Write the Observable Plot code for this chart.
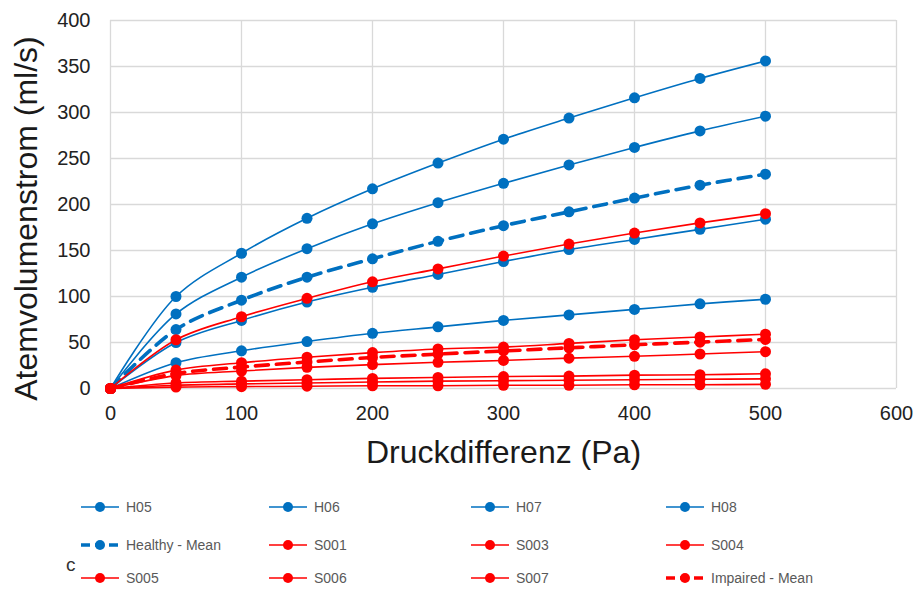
<!DOCTYPE html>
<html>
<head>
<meta charset="utf-8">
<script src="https://cdn.jsdelivr.net/npm/d3@7"></script>
<script src="https://cdn.jsdelivr.net/npm/@observablehq/plot@0.6"></script>
<style>
  body { margin: 0; background: #fff; font-family: "Liberation Sans", Arial, sans-serif; }
  #wrap { position: relative; width: 917px; height: 589px; overflow: hidden; }
  #legend { position: absolute; left: 0; top: 0; width: 917px; height: 589px; pointer-events: none; }
  .item { position: absolute; display: flex; align-items: center; font-family: "Liberation Sans Narrow", "Liberation Sans", Arial, sans-serif; font-size: 14px; color: #595959; }
  .item svg { margin-right: 6px; }
  #panel { position: absolute; left: 66px; top: 554px; font-size: 19px; color: #333; font-family: "Liberation Sans", Arial, sans-serif; }
</style>
</head>
<body>
<div id="wrap"><div id="chart"></div><div id="legend"></div><div id="panel">c</div></div>
<script>
// Pressure differences (Pa)
const pressure = [0, 50, 100, 150, 200, 250, 300, 350, 400, 450, 500];

// Healthy subjects (ml/s)
const H05 = [0, 100, 147, 185, 217, 245, 271, 294, 316, 337, 356];
const H06 = [0, 81, 121, 152, 179, 202, 223, 243, 262, 280, 296];
const H07 = [0, 50, 74, 94, 110, 124, 138, 151, 162, 173, 184];
const H08 = [0, 28, 41, 51, 60, 67, 74, 80, 86, 92, 97];
const healthyMean = [0, 64, 96, 121, 141, 160, 177, 192, 207, 221, 233];

// Impaired subjects (ml/s)
const S001 = [0, 53, 78, 98, 116, 130, 144, 157, 169, 180, 190];
const S003 = [0, 20, 28, 34, 39, 43, 45, 49, 53, 56, 59];
const S004 = [0, 14, 19, 23, 26, 28.5, 30.5, 33, 35, 37.5, 40];
const S005 = [0, 6, 8, 9.5, 11, 12, 13, 13.5, 14.5, 15, 16];
const S006 = [0, 3.5, 5, 6, 7, 8, 8.5, 9, 9.5, 10, 10.5];
const S007 = [0, 1.5, 2, 2.5, 3, 3, 3.5, 3.5, 4, 4, 4.5];
const impairedMean = [0, 16.3, 23.3, 28.8, 33.7, 37.4, 40.8, 44.2, 47.5, 50.4, 53.3];

const xTicks = [0, 100, 200, 300, 400, 500, 600];
const yTicks = [0, 50, 100, 150, 200, 250, 300, 350, 400];

const BLUE = "#0070C0";
const RED = "#FF0000";

const seriesList = [
  {name: "H05", values: H05, color: BLUE, dashed: false},
  {name: "H06", values: H06, color: BLUE, dashed: false},
  {name: "H07", values: H07, color: BLUE, dashed: false},
  {name: "H08", values: H08, color: BLUE, dashed: false},
  {name: "Healthy - Mean", values: healthyMean, color: BLUE, dashed: true},
  {name: "S001", values: S001, color: RED, dashed: false},
  {name: "S003", values: S003, color: RED, dashed: false},
  {name: "S004", values: S004, color: RED, dashed: false},
  {name: "S005", values: S005, color: RED, dashed: false},
  {name: "S006", values: S006, color: RED, dashed: false},
  {name: "S007", values: S007, color: RED, dashed: false},
  {name: "Impaired - Mean", values: impairedMean, color: RED, dashed: true}
];

const marks = [
  Plot.gridX(xTicks, {stroke: "#d9d9d9", strokeOpacity: 1, strokeWidth: 1.3}),
  Plot.gridY(yTicks, {stroke: "#d9d9d9", strokeOpacity: 1, strokeWidth: 1.3}),
  Plot.axisX(xTicks, {tickSize: 0, tickPadding: 17, fontSize: 20, fill: "#222", label: null}),
  Plot.axisY(yTicks, {tickSize: 0, tickPadding: 20, fontSize: 20, fill: "#222", label: null}),
];

for (const s of seriesList) {
  const rows = pressure.map((p, i) => ({p, v: s.values[i]}));
  marks.push(Plot.line(rows, {
    x: "p", y: "v", stroke: s.color,
    strokeWidth: s.dashed ? 3.6 : 1.6,
    strokeDasharray: s.dashed ? "13,8" : null,
    curve: "catmull-rom"
  }));
  marks.push(Plot.dot(rows, {x: "p", y: "v", r: 5.5, fill: s.color, stroke: null}));
}

marks.push(Plot.text(["Druckdifferenz (Pa)"], {frameAnchor: "bottom", textAnchor: "middle", dy: 74, fontSize: 32, fill: "#1a1a1a"}));
marks.push(Plot.text(["Atemvolumenstrom (ml/s)"], {frameAnchor: "left", textAnchor: "middle", dx: -84, dy: 14, rotate: -90, fontSize: 32, fill: "#1a1a1a"}));

const chart = Plot.plot({
  width: 917,
  height: 480,
  marginLeft: 110,
  marginRight: 21,
  marginTop: 20,
  marginBottom: 92,
  style: {fontFamily: "'Liberation Sans', Arial, sans-serif", background: "#fff", overflow: "visible"},
  x: {domain: [0, 600]},
  y: {domain: [0, 400]},
  marks
});
document.getElementById("chart").appendChild(chart);

// Legend
const legend = document.getElementById("legend");
const colX = [80, 268, 470, 665];
const rowY = [507, 545, 578];
seriesList.forEach((s, i) => {
  const col = i % 4, row = Math.floor(i / 4);
  const div = document.createElement("div");
  div.className = "item";
  div.style.left = colX[col] + "px";
  div.style.top = (rowY[row] - 10) + "px";
  const sw = s.dashed ? 3.5 : 1.6;
  const dash = s.dashed ? 'stroke-dasharray="9,5"' : "";
  div.innerHTML = `<svg width="40" height="20"><line x1="1" x2="39" y1="10" y2="10" stroke="${s.color}" stroke-width="${sw}" ${dash}/><circle cx="20" cy="10" r="5" fill="${s.color}"/></svg><span>${s.name}</span>`;
  legend.appendChild(div);
});
</script>
</body>
</html>
